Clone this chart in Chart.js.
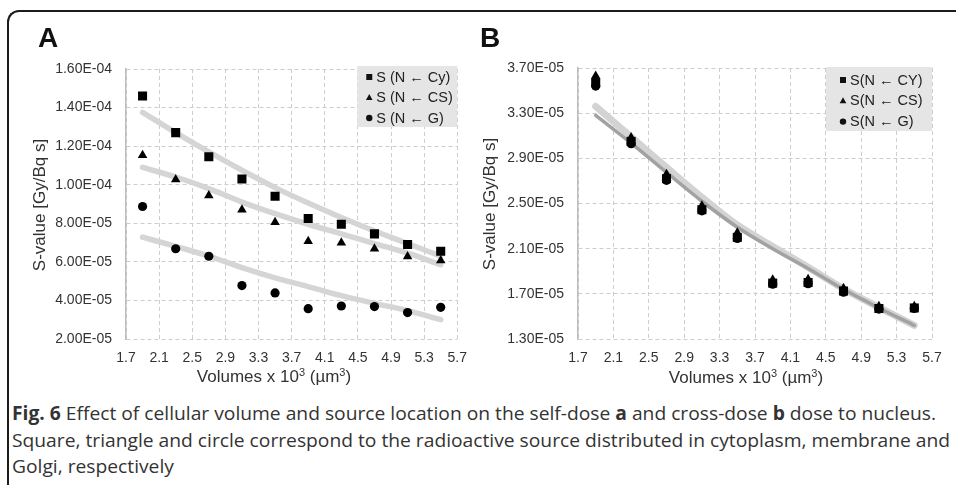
<!DOCTYPE html>
<html>
<head>
<meta charset="utf-8">
<script src="https://cdn.jsdelivr.net/npm/chart.js@4.4.0/dist/chart.umd.min.js"></script>
<style>
  body { margin: 0; width: 956px; height: 485px; background: #fff; position: relative; overflow: hidden;
         font-family: 'Liberation Sans', Arial, sans-serif; }
  .frame { position: absolute; left: 7px; top: 10px; width: 1100px; height: 700px;
           border-top: 2px solid #1c1c1c; border-left: 2px solid #1c1c1c; border-top-left-radius: 12px; }
  canvas { position: absolute; top: 0; }
  #chartA { left: 0; }
  #chartB { left: 478px; }
  .panel { position: absolute; top: 24px; font-size: 28px; line-height: 28px; font-weight: bold; color: #111; }
  .ytitle, .xtitle { position: absolute; font-size: 17px; color: #333; white-space: nowrap; }
  .ytitle { transform: translate(-50%, -50%) rotate(-90deg); }
  .xtitle { transform: translate(-50%, -50%); }
  .xtitle sup { font-size: 11px; vertical-align: 6px; line-height: 0; }
  .caption { position: absolute; left: 12px; top: 400px; font-family: 'Open Sans', sans-serif;
             font-size: 19px; line-height: 26.5px; color: #333; }
  .caption div { white-space: nowrap; transform-origin: left center; width: max-content; }
</style>
</head>
<body>
<div class="frame"></div>
<canvas id="chartA" width="478" height="400"></canvas>
<canvas id="chartB" width="478" height="400"></canvas>
<div class="panel" style="left:38px">A</div>
<div class="panel" style="left:480px">B</div>
<div class="ytitle" style="left:40px; top:205px">S-value [Gy/Bq s]</div>
<div class="ytitle" style="left:490px; top:204px">S-value [Gy/Bq s]</div>
<div class="xtitle" style="left:274px; top:377px">Volumes x 10<sup>3</sup> (µm<sup>3</sup>)</div>
<div class="xtitle" style="left:746px; top:378px">Volumes x 10<sup>3</sup> (µm<sup>3</sup>)</div>
<div class="caption">
  <div id="cap1"><b>Fig. 6</b> Effect of cellular volume and source location on the self-dose <b>a</b> and cross-dose <b>b</b> dose to nucleus.</div>
  <div>Square, triangle and circle correspond to the radioactive source distributed in cytoplasm, membrane and</div>
  <div>Golgi, respectively</div>
</div>

<script>
// volumes x 10^3 (um^3)
const volumes = [1.9, 2.3, 2.7, 3.1, 3.5, 3.9, 4.3, 4.7, 5.1, 5.5];

// A - self dose
const selfCy = [1.46e-4, 1.27e-4, 1.145e-4, 1.03e-4, 9.4e-5, 8.25e-5, 7.95e-5, 7.45e-5, 6.9e-5, 6.55e-5];
const selfCS = [1.153e-4, 1.027e-4, 9.44e-5, 8.7e-5, 8.06e-5, 7.07e-5, 6.99e-5, 6.68e-5, 6.28e-5, 6.07e-5];
const selfG = [8.87e-5, 6.68e-5, 6.29e-5, 4.77e-5, 4.39e-5, 3.57e-5, 3.71e-5, 3.68e-5, 3.37e-5, 3.64e-5];
// trend lines
const fitCy = [1.375e-4, 1.27e-4, 1.17e-4, 1.075e-4, 9.85e-5, 9.05e-5, 8.3e-5, 7.6e-5, 6.95e-5, 6.3e-5];
const fitCS = [1.09e-4, 1.04e-4, 9.8e-5, 9.1e-5, 8.5e-5, 7.95e-5, 7.45e-5, 6.95e-5, 6.45e-5, 5.85e-5];
const fitG = [7.28e-5, 6.8e-5, 6.3e-5, 5.7e-5, 5.17e-5, 4.72e-5, 4.25e-5, 3.85e-5, 3.47e-5, 3.0e-5];

// B - cross dose
const crossCY = [3.57e-5, 3.05e-5, 2.72e-5, 2.445e-5, 2.2e-5, 1.795e-5, 1.8e-5, 1.725e-5, 1.57e-5, 1.575e-5];
const crossCS = [3.63e-5, 3.085e-5, 2.76e-5, 2.48e-5, 2.24e-5, 1.825e-5, 1.83e-5, 1.75e-5, 1.59e-5, 1.59e-5];
const crossG = [3.54e-5, 3.03e-5, 2.705e-5, 2.435e-5, 2.19e-5, 1.785e-5, 1.79e-5, 1.715e-5, 1.565e-5, 1.57e-5];
const fitLight = [3.36e-5, 3.09e-5, 2.82e-5, 2.555e-5, 2.31e-5, 2.12e-5, 1.935e-5, 1.745e-5, 1.58e-5, 1.42e-5];
const fitDark = [3.28e-5, 3.035e-5, 2.775e-5, 2.52e-5, 2.29e-5, 2.1e-5, 1.925e-5, 1.74e-5, 1.575e-5, 1.42e-5];

// axis ranges
const xMin = 1.7, xMax = 5.7, xStep = 0.4;
const yA = { min: 2e-5, max: 1.6e-4, step: 2e-5 };
const yB = { min: 1.3e-5, max: 3.7e-5, step: 4e-6 };

const legendA = ['S (N \u2190 Cy)', 'S (N \u2190 CS)', 'S (N \u2190 G)'];
const legendB = ['S(N \u2190 CY)', 'S(N \u2190 CS)', 'S(N \u2190 G)'];

function pts(ys) {
  return volumes.map((x, i) => ({ x: x, y: ys[i] }));
}

// 1.60E-04 style labels
function sci(v) {
  const parts = v.toExponential(2).split('e');
  const n = parseInt(parts[1], 10);
  return parts[0] + 'E' + (n < 0 ? '-' : '+') + String(Math.abs(n)).padStart(2, '0');
}

function markers(data, style, radius) {
  return {
    data: pts(data),
    pointStyle: style,
    pointRadius: radius,
    pointHoverRadius: radius,
    backgroundColor: '#000',
    borderColor: '#000',
    borderWidth: 0,
    showLine: false,
    order: 1
  };
}

function trend(data, color, width, order) {
  return {
    data: pts(data),
    showLine: true,
    pointRadius: 0,
    borderColor: color,
    borderWidth: width,
    borderCapStyle: 'round',
    cubicInterpolationMode: 'monotone',
    fill: false,
    order: order
  };
}

// grey legend box inside the plot, top right
const boxLegend = {
  id: 'boxLegend',
  afterDatasetsDraw(chart, args, o) {
    const { ctx, chartArea } = chart;
    const x = chartArea.right - o.width;
    const y = chartArea.top + o.top;
    ctx.save();
    ctx.fillStyle = '#e5e5e5';
    ctx.fillRect(x, y, o.width, o.height);
    ctx.font = '14.5px "Liberation Sans", Arial, sans-serif';
    ctx.textBaseline = 'middle';
    ctx.textAlign = 'left';
    const styles = ['rect', 'triangle', 'circle'];
    o.labels.forEach((txt, i) => {
      const cy = y + o.row0 + i * o.gap;
      const mx = x + o.markerX;
      ctx.fillStyle = '#111';
      ctx.beginPath();
      if (styles[i] === 'rect') {
        ctx.rect(mx - 3, cy - 3, 6, 6);
      } else if (styles[i] === 'triangle') {
        ctx.moveTo(mx, cy - 3.5);
        ctx.lineTo(mx + 3.3, cy + 2.5);
        ctx.lineTo(mx - 3.3, cy + 2.5);
        ctx.closePath();
      } else {
        ctx.arc(mx, cy, 3.2, 0, Math.PI * 2);
      }
      ctx.fill();
      ctx.fillStyle = '#222';
      ctx.fillText(txt, x + o.textX, cy + 0.5);
    });
    ctx.restore();
  }
};

function makeChart(id, datasets, yr, pad, yWidth, legendOpts) {
  return new Chart(document.getElementById(id), {
    type: 'scatter',
    data: { datasets: datasets },
    plugins: [boxLegend],
    options: {
      responsive: false,
      animation: false,
      devicePixelRatio: 1,
      layout: { padding: pad },
      plugins: {
        legend: { display: false },
        tooltip: { enabled: false },
        boxLegend: legendOpts
      },
      scales: {
        x: {
          type: 'linear',
          min: xMin,
          max: xMax,
          afterFit: (s) => { s.height = 61; },
          ticks: {
            stepSize: xStep,
            padding: 11,
            color: '#333',
            font: { family: '"Liberation Sans", Arial, sans-serif', size: 14 },
            callback: (v) => v.toFixed(1)
          },
          grid: { color: '#cdcdcd', lineWidth: 1, drawTicks: false },
          border: { display: false, dash: [4, 3] }
        },
        y: {
          type: 'linear',
          min: yr.min,
          max: yr.max,
          afterFit: (s) => { s.width = yWidth; },
          ticks: {
            stepSize: yr.step,
            padding: 14,
            color: '#333',
            font: { family: '"Liberation Sans", Arial, sans-serif', size: 14 },
            callback: (v) => sci(v)
          },
          grid: { color: '#cdcdcd', lineWidth: 1, drawTicks: false },
          border: { display: true, color: '#bcbcbc', width: 1.5, dash: [4, 3] }
        }
      }
    }
  });
}

makeChart('chartA', [
  trend(fitCy, '#d5d5d5', 5.5, 3),
  trend(fitCS, '#d5d5d5', 5.5, 3),
  trend(fitG, '#d5d5d5', 5.5, 3),
  markers(selfCy, 'rect', 6.4),
  markers(selfCS, 'triangle', 5.5),
  markers(selfG, 'circle', 4.6)
], yA, { left: 0, top: 69, right: 15, bottom: 0 }, 126,
  { labels: legendA, width: 100, height: 61, top: -3, markerX: 12, textX: 19, row0: 11, gap: 20.5 });

makeChart('chartB', [
  trend(fitLight, '#d3d3d3', 7, 4),
  trend(fitDark, '#a2a2a2', 3.5, 3),
  markers(crossG, 'circle', 4.6),
  markers(crossCY, 'rect', 6.4),
  markers(crossCS, 'triangle', 5.5)
], yB, { left: 0, top: 68, right: 24, bottom: 0 }, 100,
  { labels: legendB, width: 106, height: 64, top: -1, markerX: 17, textX: 24, row0: 13, gap: 20.8 });

// squeeze the caption so the first line spans the same width as the reference
const cap = document.querySelectorAll('.caption div');
const k = 924 / document.getElementById('cap1').getBoundingClientRect().width;
cap.forEach((d) => { d.style.transform = 'scaleX(' + k + ')'; });
</script>
</body>
</html>
